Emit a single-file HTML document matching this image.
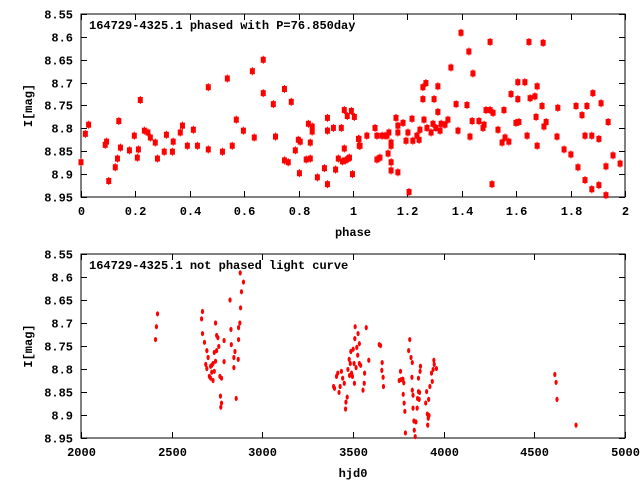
<!DOCTYPE html>
<html><head><meta charset="utf-8"><style>
body{margin:0;background:#fff}
svg{display:block;font-family:"Liberation Mono",monospace;font-weight:bold;font-size:12px}
</style></head><body>
<svg id="c" width="640" height="480" xmlns="http://www.w3.org/2000/svg">
<rect width="640" height="480" fill="#fff"/>
<g id="top"></g>
<g id="bot"></g>
</svg>
<script>
const phaseVals=[0.0,0.016,0.028,0.089,0.094,0.102,0.126,0.134,0.139,0.145,0.178,0.196,0.207,0.211,0.218,0.233,0.246,0.255,0.273,0.281,0.306,0.314,0.336,0.339,0.365,0.373,0.391,0.413,0.428,0.468,0.468,0.520,0.538,0.556,0.571,0.597,0.630,0.637,0.670,0.670,0.707,0.715,0.748,0.748,0.762,0.773,0.788,0.803,0.799,0.806,0.828,0.836,0.843,0.843,0.850,0.850,0.869,0.895,0.906,0.906,0.906,0.928,0.936,0.946,0.957,0.961,0.968,0.968,0.972,0.979,0.983,0.987,0.994,0.998,1.005,1.020,1.023,1.022,1.026,1.051,1.081,1.088,1.088,1.099,1.107,1.118,1.125,1.129,1.132,1.140,1.140,1.140,1.140,1.158,1.165,1.165,1.165,1.184,1.195,1.202,1.206,1.217,1.220,1.235,1.243,1.246,1.257,1.257,1.261,1.268,1.272,1.287,1.294,1.298,1.305,1.312,1.312,1.320,1.324,1.338,1.349,1.360,1.379,1.386,1.397,1.419,1.426,1.430,1.438,1.441,1.463,1.478,1.482,1.489,1.504,1.504,1.511,1.515,1.533,1.548,1.555,1.559,1.573,1.581,1.599,1.606,1.606,1.610,1.632,1.640,1.647,1.651,1.669,1.673,1.677,1.677,1.695,1.699,1.702,1.710,1.750,1.753,1.776,1.801,1.820,1.827,1.842,1.853,1.853,1.860,1.878,1.878,1.882,1.904,1.904,1.912,1.930,1.930,1.938,1.956,1.982];
const phaseMags=[8.874,8.812,8.792,8.836,8.829,8.915,8.885,8.866,8.784,8.842,8.848,8.816,8.864,8.846,8.738,8.805,8.809,8.820,8.831,8.866,8.851,8.814,8.851,8.829,8.809,8.794,8.838,8.803,8.838,8.846,8.710,8.851,8.691,8.838,8.781,8.805,8.675,8.820,8.650,8.723,8.747,8.818,8.714,8.870,8.874,8.742,8.848,8.898,8.825,8.829,8.868,8.790,8.831,8.866,8.796,8.807,8.907,8.887,8.777,8.805,8.922,8.799,8.890,8.866,8.799,8.872,8.760,8.844,8.870,8.773,8.866,8.864,8.762,8.900,8.775,8.823,8.838,8.823,8.838,8.816,8.799,8.816,8.868,8.864,8.816,8.816,8.816,8.855,8.809,8.831,8.838,8.874,8.892,8.777,8.794,8.809,8.896,8.788,8.827,8.809,8.939,8.779,8.827,8.816,8.825,8.803,8.736,8.710,8.781,8.701,8.799,8.809,8.790,8.736,8.799,8.708,8.764,8.805,8.790,8.792,8.781,8.667,8.747,8.805,8.591,8.749,8.632,8.818,8.784,8.680,8.784,8.799,8.792,8.760,8.611,8.760,8.922,8.766,8.803,8.831,8.760,8.820,8.829,8.725,8.788,8.736,8.699,8.786,8.699,8.816,8.611,8.734,8.730,8.775,8.708,8.838,8.751,8.613,8.796,8.786,8.818,8.755,8.846,8.857,8.751,8.885,8.771,8.816,8.913,8.751,8.816,8.933,8.723,8.823,8.924,8.745,8.883,8.946,8.786,8.859,8.877];
const hjdVals=[2411,2416,2422,2665,2670,2670,2681,2688,2694,2694,2701,2708,2715,2715,2721,2721,2728,2728,2735,2735,2742,2742,2748,2748,2755,2760,2766,2769,2771,2775,2775,2789,2789,2822,2827,2829,2843,2843,2849,2856,2867,2869,2869,2876,2878,2880,2885,2896,3393,3398,3409,3416,3423,3429,3436,3443,3452,3459,3461,3468,3472,3479,3481,3485,3488,3492,3497,3501,3506,3508,3510,3512,3517,3521,3526,3528,3535,3535,3542,3555,3562,3564,3573,3587,3645,3652,3659,3661,3666,3668,3755,3762,3766,3775,3777,3780,3782,3786,3789,3807,3813,3820,3825,3827,3827,3831,3831,3836,3838,3843,3847,3854,3856,3861,3861,3865,3867,3870,3872,3901,3906,3910,3912,3915,3917,3919,3924,3933,3937,3942,3946,3948,3960,4613,4620,4625,4730];
const hjdMags=[8.736,8.708,8.680,8.691,8.675,8.723,8.742,8.790,8.799,8.760,8.775,8.816,8.794,8.820,8.792,8.807,8.825,8.788,8.805,8.764,8.783,8.700,8.727,8.760,8.732,8.751,8.816,8.859,8.883,8.820,8.874,8.738,8.784,8.650,8.714,8.747,8.797,8.775,8.762,8.864,8.779,8.736,8.710,8.700,8.591,8.667,8.632,8.611,8.838,8.842,8.816,8.809,8.851,8.838,8.805,8.820,8.831,8.887,8.872,8.861,8.801,8.779,8.814,8.788,8.762,8.809,8.816,8.757,8.788,8.831,8.734,8.708,8.797,8.753,8.770,8.723,8.745,8.788,8.792,8.846,8.831,8.809,8.710,8.781,8.747,8.749,8.803,8.786,8.818,8.838,8.825,8.805,8.823,8.822,8.855,8.830,8.874,8.892,8.939,8.760,8.736,8.775,8.818,8.786,8.846,8.857,8.885,8.913,8.933,8.947,8.915,8.885,8.864,8.849,8.820,8.866,8.851,8.805,8.794,8.874,8.849,8.898,8.922,8.907,8.866,8.901,8.838,8.809,8.827,8.801,8.781,8.790,8.799,8.812,8.829,8.866,8.922];
const magTicks=["8.55","8.6","8.65","8.7","8.75","8.8","8.85","8.9","8.95"];
const phaseTicks=["0","0.2","0.4","0.6","0.8","1","1.2","1.4","1.6","1.8","2"];
const hjdTicks=["2000","2500","3000","3500","4000","4500","5000"];
const NS="http://www.w3.org/2000/svg";
function mk(p,t,a){const e=document.createElementNS(NS,t);for(const k in a)e.setAttribute(k,a[k]);p.appendChild(e);return e;}
function panel(g,L,R,T,B,xmin,xmax,xt,xs,title,xlabel,xv,yv,marker){
  const X=v=>L+(v-xmin)/(xmax-xmin)*(R-L);
  const Y=v=>T+(v-8.55)/0.4*(B-T);
  const fr=mk(g,'rect',{x:L,y:T,width:R-L,height:B-T,fill:'none',stroke:'#000','stroke-width':1});
  
  
  magTicks.forEach(s=>{const y=Math.round(Y(+s))+0.5;
    mk(g,'line',{x1:L,x2:L+6,y1:y,y2:y,stroke:'#000'});mk(g,'line',{x1:R-6,x2:R,y1:y,y2:y,stroke:'#000'});
    const t=mk(g,'text',{x:L-8,y:y+4,'text-anchor':'end'});t.textContent=s;
    
    });
  xt.forEach(s=>{const x=Math.round(X(+s/xs))+0.5;
    mk(g,'line',{x1:x,x2:x,y1:B,y2:B-6,stroke:'#000'});mk(g,'line',{x1:x,x2:x,y1:T,y2:T+6,stroke:'#000'});
    const t=mk(g,'text',{x:x,y:B+18,'text-anchor':'middle'});t.textContent=s;
    
    });
  const tt=mk(g,'text',{x:L+8,y:T+15});tt.textContent=title;
  
  
  const xl=mk(g,'text',{x:(L+R)/2,y:B+39,'text-anchor':'middle'});xl.textContent=xlabel;
  
  
  const cy=(T+B)/2;
  const yl=mk(g,'text',{x:32,y:cy,'text-anchor':'middle',transform:`rotate(-90 32 ${cy})`});yl.textContent='I[mag]';
  
  
  xv.forEach((v,i)=>{const x=X(v),y=Y(yv[i]);let m;
    if(marker==='sq'){m=mk(g,'rect',{x:x-2.5,y:y-3,width:5,height:6,fill:'#f00'});mk(g,'line',{x1:x,x2:x,y1:y-4,y2:y+4,stroke:'#f00'});}
    else m=mk(g,'ellipse',{cx:x,cy:y,rx:1.6,ry:2.6,fill:'#f00'});
    
    });
}
panel(document.getElementById('top'),81,625,14,197,0,2,phaseTicks,1,'164729-4325.1 phased with P=76.850day','phase',phaseVals,phaseMags,'sq');
panel(document.getElementById('bot'),81,625,254,438,2000,5000,hjdTicks,1,'164729-4325.1 not phased light curve','hjd0',hjdVals,hjdMags,'el');
</script>
</body></html>
